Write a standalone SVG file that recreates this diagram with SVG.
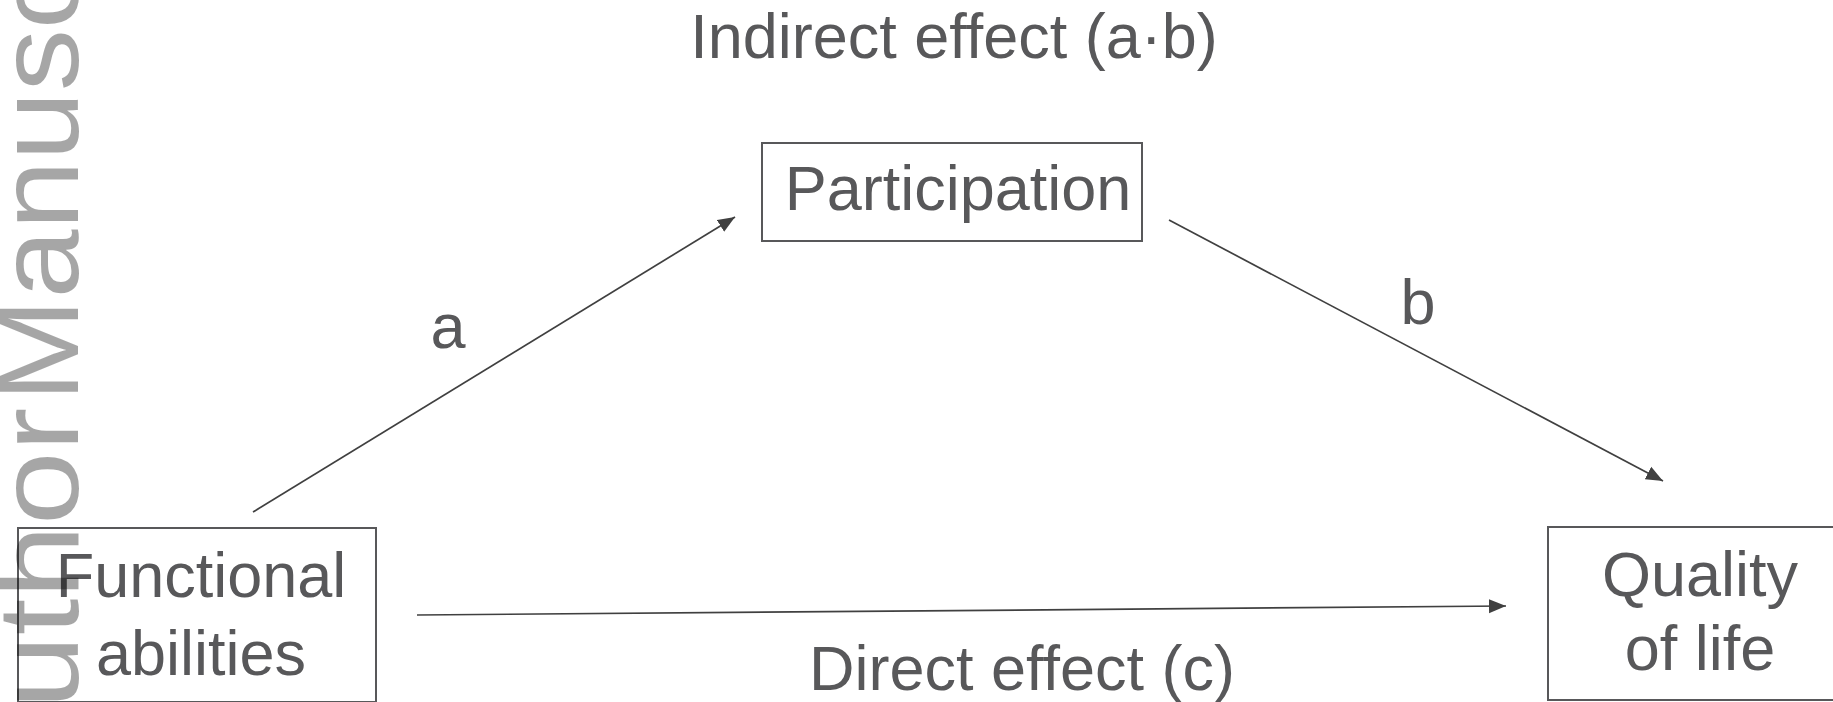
<svg xmlns="http://www.w3.org/2000/svg" width="1833" height="702" viewBox="0 0 1833 702">
  <style>
    .lbl { font-family: "Liberation Sans", Arial, sans-serif; font-size: 63px; fill: #58585a; }
    .box { fill: #ffffff; stroke: #58585a; stroke-width: 2; }
    .conn { stroke: #404040; stroke-width: 1.7; fill: none; marker-end: url(#arrow); }
    .wm { font-family: "Liberation Sans", Arial, sans-serif; font-size: 115px; fill: #000000; fill-opacity: 0.35; }
  </style>
  <defs>
    <marker id="arrow" markerUnits="userSpaceOnUse" markerWidth="19" markerHeight="16" refX="17" refY="8" orient="auto">
      <path d="M0,1 L17,8 L0,15 Z" fill="#404040"/>
    </marker>
  </defs>
  <rect width="1833" height="702" fill="#ffffff"/>
  <text class="lbl" x="954" y="58" text-anchor="middle">Indirect effect (a·b)</text>
  <text class="lbl" x="1022" y="690" text-anchor="middle">Direct effect (c)</text>
  <g id="connectors">
    <line class="conn" x1="253" y1="512" x2="735" y2="217"/>
    <line class="conn" x1="1169" y1="220" x2="1663" y2="481"/>
    <line class="conn" x1="417" y1="615" x2="1506" y2="606"/>
    <text class="lbl" x="448" y="348" text-anchor="middle">a</text>
    <text class="lbl" x="1418" y="324" text-anchor="middle">b</text>
  </g>
  <g id="participation">
    <rect class="box" x="762" y="143" width="380" height="98"/>
    <text class="lbl" x="958" y="210" text-anchor="middle">Participation</text>
  </g>
  <g id="functional">
    <rect class="box" x="18" y="528" width="358" height="174"/>
    <text class="lbl" x="201" y="597" text-anchor="middle">Functional</text>
    <text class="lbl" x="201" y="675" text-anchor="middle">abilities</text>
  </g>
  <g id="quality">
    <rect class="box" x="1548" y="527" width="300" height="173"/>
    <text class="lbl" x="1700" y="596" text-anchor="middle">Quality</text>
    <text class="lbl" x="1700" y="670" text-anchor="middle">of life</text>
  </g>
  <g id="watermark">
    <text class="wm" transform="translate(78,797) rotate(-90) scale(1.15,1)">Author</text>
    <text class="wm" transform="translate(78,402) rotate(-90) scale(1.08,1)">Manuscript</text>
  </g>
</svg>
